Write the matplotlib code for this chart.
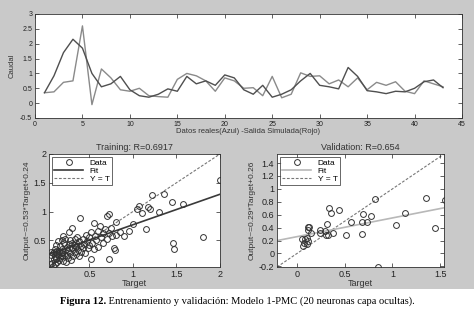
import matplotlib
matplotlib.use("Agg")
import matplotlib.pyplot as plt
import numpy as np

# ---------------- data ----------------
idx = list(range(1, 44))
real_azul = [0.35, 0.92, 1.70, 2.15, 1.85, 1.00, 0.55, 0.65, 0.90, 0.45,
             0.25, 0.20, 0.30, 0.48, 0.40, 0.90, 0.65, 0.75, 0.60, 0.95,
             0.85, 0.45, 0.30, 0.60, 0.20, 0.30, 0.45, 0.75, 1.00, 0.60,
             0.55, 0.48, 1.20, 0.90, 0.42, 0.38, 0.32, 0.40, 0.38, 0.50,
             0.72, 0.78, 0.52]
sim_rojo = [0.35, 0.38, 0.70, 0.75, 2.60, -0.05, 1.15, 0.85, 0.45, 0.40,
            0.50, 0.25, 0.22, 0.20, 0.80, 1.00, 0.92, 0.75, 0.40, 0.85,
            0.75, 0.50, 0.52, 0.25, 0.90, 0.18, 0.30, 1.02, 0.90, 0.92,
            0.65, 0.78, 0.55, 0.85, 0.45, 0.70, 0.60, 0.72, 0.40, 0.32,
            0.75, 0.65, 0.55]

train_target = [0.05, 0.07, 0.08, 0.10, 0.06, 0.08, 0.10, 0.12, 0.12, 0.14,
                0.15, 0.15, 0.16, 0.17, 0.18, 0.18, 0.20, 0.20, 0.21, 0.22,
                0.22, 0.24, 0.25, 0.25, 0.26, 0.27, 0.28, 0.28, 0.30, 0.30,
                0.31, 0.32, 0.33, 0.33, 0.34, 0.35, 0.35, 0.36, 0.37, 0.38,
                0.38, 0.39, 0.40, 0.40, 0.42, 0.43, 0.44, 0.45, 0.46, 0.47,
                0.48, 0.50, 0.50, 0.52, 0.52, 0.53, 0.55, 0.55, 0.56, 0.58,
                0.60, 0.60, 0.62, 0.63, 0.65, 0.66, 0.68, 0.70, 0.70, 0.72,
                0.72, 0.73, 0.75, 0.76, 0.78, 0.79, 0.80, 0.80, 0.85, 0.90,
                0.95, 1.00, 1.05, 1.07, 1.10, 1.15, 1.17, 1.20, 1.22, 1.30,
                1.36, 1.45, 1.46, 1.47, 1.58, 1.80, 2.00, 0.10, 0.13, 0.09,
                0.11, 0.19, 0.23, 0.29, 0.06, 0.14, 0.20, 0.24, 0.12, 0.16,
                0.09, 0.26, 0.30, 0.34, 0.18]
train_output = [0.08, 0.10, 0.06, 0.09, 0.25, 0.28, 0.22, 0.30, 0.18, 0.25,
                0.32, 0.15, 0.40, 0.28, 0.22, 0.35, 0.14, 0.30, 0.45, 0.25,
                0.52, 0.38, 0.20, 0.32, 0.64, 0.44, 0.28, 0.50, 0.36, 0.72,
                0.22, 0.42, 0.30, 0.52, 0.46, 0.38, 0.26, 0.55, 0.33, 0.48,
                0.22, 0.88, 0.40, 0.30, 0.52, 0.36, 0.44, 0.28, 0.60, 0.48,
                0.36, 0.42, 0.55, 0.18, 0.64, 0.46, 0.34, 0.80, 0.58, 0.50,
                0.66, 0.38, 0.74, 0.56, 0.45, 0.62, 0.70, 0.92, 0.52, 0.18,
                0.95, 0.62, 0.72, 0.58, 0.36, 0.33, 0.82, 0.60, 0.64, 0.58,
                0.66, 0.78, 1.05, 1.10, 0.98, 0.70, 1.08, 1.04, 1.28, 0.99,
                1.30, 1.16, 0.46, 0.35, 1.13, 0.56, 1.55, 0.35, 0.12, 0.18,
                0.42, 0.50, 0.12, 0.16, 0.30, 0.48, 0.58, 0.24, 0.20, 0.20,
                0.30, 0.36, 0.46, 0.40, 0.28]

val_target = [0.82, 0.33, 0.44, 0.36, 0.31, 0.57, 0.69, 0.73, 0.78, 0.68,
              0.68, 0.51, 0.38, 0.30, 0.24, 0.24, 0.29, 0.32, 0.15, 0.11,
              0.13, 0.11, 0.05, 0.08, 0.11, 0.07, 0.10, 0.06, 1.04, 1.13,
              1.35, 1.45, 1.55, 0.85, 0.10]
val_output = [0.84, 0.70, 0.67, 0.63, 0.45, 0.48, 0.61, 0.49, 0.58, 0.48,
              0.30, 0.29, 0.31, 0.29, 0.36, 0.31, 0.35, 0.28, 0.32, 0.41,
              0.41, 0.37, 0.23, 0.22, 0.20, 0.16, 0.14, 0.12, 0.44, 0.63,
              0.86, 0.40, 0.83, -0.21, 0.24]

train_fit = (0.53, 0.24)
val_fit = (0.29, 0.26)
train_title = "Training: R=0.6917"
val_title = "Validation: R=0.654"
train_ylabel = "Output~=0.53*Target+0.24"
val_ylabel = "Output~=0.29*Target+0.26"

# ---------------- figure ----------------
plt.rcParams['font.family'] = ['Liberation Sans', 'DejaVu Sans']
W, H = 474, 311
fig = plt.figure(figsize=(W / 100, H / 100), dpi=100)
fig.patch.set_facecolor('white')
bg = '#c9c9c9'
fig.patches.append(plt.Rectangle((0, 1 - 289 / H), 1, 289 / H, transform=fig.transFigure,
                                 facecolor=bg, edgecolor='none', zorder=-10))


def px_axes(l, t, r, b):
    return fig.add_axes([l / W, 1 - b / H, (r - l) / W, (b - t) / H])


def style(ax, fs):
    ax.tick_params(direction='in', length=3, width=0.5, labelsize=fs, pad=2,
                   top=True, right=True, colors='#222222')
    for s in ax.spines.values():
        s.set_linewidth(0.6)
        s.set_color('#333333')


# top axes
ax = px_axes(35, 14, 462, 118)
ax.plot(idx, sim_rojo, color='#8a8a8a', lw=1.0)
ax.plot(idx, real_azul, color='#4f4f4f', lw=1.0)
ax.set_xlim(0, 45)
ax.set_ylim(-0.5, 3)
ax.set_xticks(range(0, 46, 5))
ax.set_yticks([-0.5, 0, 0.5, 1, 1.5, 2, 2.5, 3])
ax.set_yticklabels(['-0.5', '0', '0.5', '1', '1.5', '2', '2.5', '3'])
style(ax, 5)
ax.set_xlabel('Datos reales(Azul) -Salida Simulada(Rojo)', fontsize=5.5, labelpad=0, color='#333333')
ax.set_ylabel('Caudal', fontsize=5.5, labelpad=3, color='#333333')


def reg_plot(ax, t, o, fit, lim, ticks, ticklabels, title, ylabel, fitcolor):
    ax.plot(t, o, 'o', mfc='none', mec='#333333', ms=4.2, mew=0.7, label='Data', zorder=3)
    xs = np.array(lim)
    ax.plot(xs, fit[0] * xs + fit[1], color=fitcolor, lw=1.2, label='Fit', zorder=2)
    ax.plot(xs, xs, '--', color='#777777', lw=0.8, dashes=(2.5, 1.5), label='Y = T', zorder=1)
    ax.set_xlim(lim)
    ax.set_ylim(lim)
    ax.set_xticks(ticks[0])
    ax.set_yticks(ticks[1])
    ax.set_xticklabels(ticklabels[0])
    ax.set_yticklabels(ticklabels[1])
    style(ax, 6.5)
    ax.set_title(title, fontsize=6.5, pad=3, color='#333333')
    ax.set_xlabel('Target', fontsize=6.5, labelpad=0, color='#333333')
    ax.set_ylabel(ylabel, fontsize=6, labelpad=2, color='#333333')
    leg = ax.legend(loc='upper left', fontsize=6, frameon=True, fancybox=False,
                    borderpad=0.2, labelspacing=0.05, handlelength=3.5,
                    handletextpad=0.8, borderaxespad=0.4)
    leg.get_frame().set_edgecolor('#222222')
    leg.get_frame().set_linewidth(0.6)


ax1 = px_axes(49, 154, 220, 267)
reg_plot(ax1, train_target, train_output, train_fit, (0.035, 2.0),
         ([0.5, 1, 1.5, 2], [0.5, 1, 1.5, 2]),
         (['0.5', '1', '1.5', '2'], ['0.5', '1', '1.5', '2']),
         train_title, train_ylabel, '#3a3a3a')

ax2 = px_axes(277, 154, 444, 267)
vt = [-0.2, 0, 0.2, 0.4, 0.6, 0.8, 1, 1.2, 1.4]
reg_plot(ax2, val_target, val_output, val_fit, (-0.21, 1.54),
         ([0, 0.5, 1, 1.5], vt),
         (['0', '0.5', '1', '1.5'], ['-0.2', '0', '0.2', '0.4', '0.6', '0.8', '1', '1.2', '1.4']),
         val_title, val_ylabel, '#b8b8b8')

# caption
yc = 1 - 301 / H
t1 = fig.text(0, yc, 'Figura 12.', fontsize=7.6, weight='bold', family='Liberation Serif',
              va='center', ha='left')
t2 = fig.text(0, yc, ' Entrenamiento y validación: Modelo 1-PMC (20 neuronas capa ocultas).',
              fontsize=7.6, family='Liberation Serif', va='center', ha='left')
fig.canvas.draw()
r = fig.canvas.get_renderer()
w1 = t1.get_window_extent(r).width / W
w2 = t2.get_window_extent(r).width / W
x0 = 0.5 - (w1 + w2) / 2
t1.set_x(x0)
t2.set_x(x0 + w1)

fig.savefig('out.png', dpi=100, facecolor=fig.get_facecolor())
